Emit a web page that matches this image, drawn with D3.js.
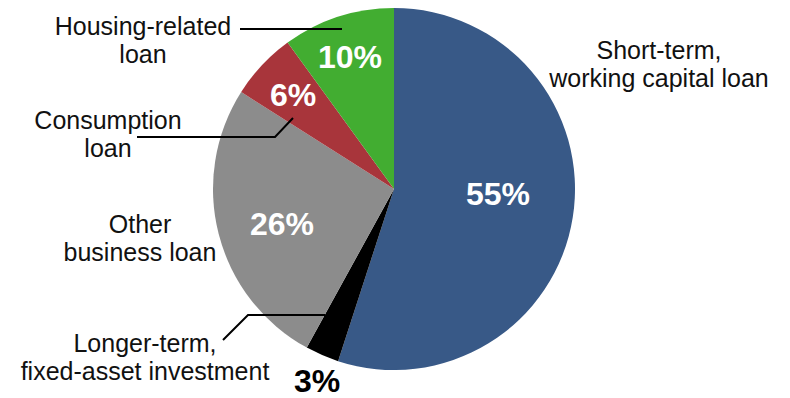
<!DOCTYPE html>
<html>
<head>
<meta charset="utf-8">
<script src="https://cdn.jsdelivr.net/npm/d3@7"></script>
<style>
  body { margin: 0; background: #fff; }
  text { font-family: "Liberation Sans", Arial, Helvetica, sans-serif; }
</style>
</head>
<body>
<script>
var width = 790
var height = 398

// data, clockwise from 12 o'clock
var categories = ['Short-term, working capital loan', 'Longer-term, fixed-asset investment', 'Other business loan', 'Consumption loan', 'Housing-related loan']
var shares = [55, 3, 26, 6, 10]
var colors = ['#385987', '#000000', '#8c8c8c', '#a8353b', '#42ad31']

// label layout (lines of each category name, and where they sit)
var labelLines = [['Short-term,', 'working capital loan'], ['Longer-term,', 'fixed-asset investment'], ['Other', 'business loan'], ['Consumption', 'loan'], ['Housing-related', 'loan']]
var labelPos = [[659, 59], [145, 352], [140, 233], [108, 129], [143, 35]]
var pctPos = [[498, 205], [317, 392], [282, 235], [293, 106], [350, 68]]
var leaders = [null, [[223, 340], [248, 315], [325, 315]], null, [[137, 137], [275, 137], [293, 118]], [[240, 29], [342, 29]]]

var cx = 394, cy = 189, radius = 181

var data = categories.map((c, i) => ({ name: c, value: shares[i], color: colors[i], i: i }))

var svg = d3.select('body').append('svg').attr('width', width).attr('height', height)
var g = svg.append('g').attr('transform', `translate(${cx},${cy})`)

var pie = d3.pie().value(d => d.value).sort(null)
var arc = d3.arc().innerRadius(0).outerRadius(radius)
var arcs = pie(data)

g.selectAll('path').data(arcs).enter().append('path')
    .attr('d', arc)
    .attr('fill', d => d.data.color)

// percentage labels
svg.selectAll('text.pct').data(arcs).enter().append('text')
    .attr('class', 'pct')
    .attr('x', d => pctPos[d.data.i][0])
    .attr('y', d => pctPos[d.data.i][1])
    .attr('text-anchor', 'middle')
    .attr('font-size', 32)
    .attr('font-weight', 'bold')
    .attr('fill', d => d.data.i === 1 ? '#000' : '#fff')
    .text(d => d.data.value + '%')

// leader lines
var line = d3.line()
svg.selectAll('path.leader').data(leaders.filter(l => l)).enter().append('path')
    .attr('class', 'leader')
    .attr('d', line)
    .attr('fill', 'none')
    .attr('stroke', '#000')
    .attr('stroke-width', 2)

// category labels
data.forEach((d, i) => {
    var t = svg.append('text')
        .attr('x', labelPos[i][0])
        .attr('y', labelPos[i][1])
        .attr('text-anchor', 'middle')
        .attr('font-size', 25)
        .attr('fill', '#111')
    labelLines[i].forEach((s, k) => {
        t.append('tspan').attr('x', labelPos[i][0]).attr('dy', k === 0 ? 0 : 28).text(s)
    })
})
</script>
</body>
</html>
